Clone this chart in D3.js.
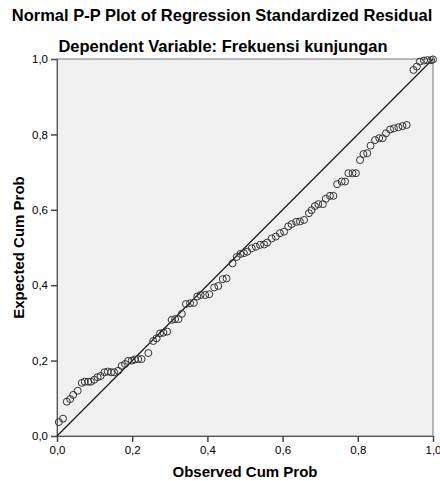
<!DOCTYPE html>
<html>
<head>
<meta charset="utf-8">
<script src="https://cdn.jsdelivr.net/npm/d3@7/dist/d3.min.js"></script>
<style>
  body { margin: 0; background: #fff; }
  text { font-family: "Liberation Sans", Arial, sans-serif; }
</style>
</head>
<body>
<div id="chart"></div>
<script>
const observed = [
  0.005, 0.016, 0.026, 0.035, 0.043, 0.055, 0.066, 0.074, 0.083, 0.090,
  0.099, 0.108, 0.116, 0.126, 0.135, 0.144, 0.152, 0.163, 0.172, 0.181,
  0.189, 0.199, 0.207, 0.216, 0.225, 0.243, 0.256, 0.265, 0.274, 0.283,
  0.293, 0.305, 0.314, 0.323, 0.332, 0.343, 0.354, 0.364, 0.373, 0.382,
  0.394, 0.405, 0.418, 0.429, 0.441, 0.451, 0.467, 0.478, 0.488, 0.497,
  0.506, 0.518, 0.529, 0.540, 0.551, 0.559, 0.571, 0.582, 0.593, 0.604,
  0.615, 0.624, 0.636, 0.646, 0.657, 0.670, 0.677, 0.686, 0.695, 0.707,
  0.715, 0.726, 0.735, 0.745, 0.757, 0.766, 0.775, 0.786, 0.795, 0.806,
  0.815, 0.825, 0.834, 0.846, 0.857, 0.866, 0.875, 0.886, 0.896, 0.908,
  0.919, 0.930, 0.948, 0.957, 0.965, 0.976, 0.985, 0.995, 1.000
];
const expected = [
  0.037, 0.046, 0.091, 0.098, 0.109, 0.120, 0.141, 0.144, 0.144, 0.144,
  0.149, 0.156, 0.159, 0.169, 0.171, 0.169, 0.169, 0.173, 0.186, 0.191,
  0.199, 0.200, 0.203, 0.204, 0.204, 0.220, 0.252, 0.259, 0.272, 0.274,
  0.277, 0.308, 0.310, 0.310, 0.324, 0.350, 0.352, 0.353, 0.370, 0.374,
  0.374, 0.376, 0.394, 0.398, 0.416, 0.418, 0.458, 0.475, 0.483, 0.485,
  0.489, 0.498, 0.502, 0.507, 0.508, 0.513, 0.524, 0.529, 0.538, 0.542,
  0.556, 0.562, 0.568, 0.569, 0.573, 0.591, 0.599, 0.610, 0.615, 0.615,
  0.629, 0.637, 0.637, 0.668, 0.675, 0.675, 0.697, 0.697, 0.697, 0.732,
  0.748, 0.750, 0.770, 0.785, 0.790, 0.790, 0.803, 0.813, 0.816, 0.819,
  0.822, 0.825, 0.971, 0.980, 0.993, 0.996, 0.997, 0.997, 0.999
];
const tickValues = [0, 0.2, 0.4, 0.6, 0.8, 1.0];

const width = 440;
const height = 481;
const margin = { top: 59, right: 7, bottom: 45, left: 57 };
const plotW = width - margin.left - margin.right;
const plotH = height - margin.top - margin.bottom;

const points = observed.map((d, i) => ({ x: d, y: expected[i] }));
const fmt = (d) => d3.format('.1f')(d).replace('.', ',');

const svg = d3.select('#chart').append('svg')
  .attr('width', width)
  .attr('height', height);

const x = d3.scaleLinear().domain([0, 1]).range([0, plotW]);
const y = d3.scaleLinear().domain([0, 1]).range([plotH, 0]);

// titles
svg.append('text')
  .attr('x', 222)
  .attr('y', 21)
  .attr('text-anchor', 'middle')
  .attr('font-size', 16.5)
  .attr('font-weight', 'bold')
  .attr('fill', '#000')
  .text('Normal P-P Plot of Regression Standardized Residual');

svg.append('text')
  .attr('x', 223)
  .attr('y', 52)
  .attr('text-anchor', 'middle')
  .attr('font-size', 16.5)
  .attr('font-weight', 'bold')
  .attr('fill', '#000')
  .text('Dependent Variable: Frekuensi kunjungan');

const g = svg.append('g')
  .attr('transform', `translate(${margin.left},${margin.top})`);

g.append('rect')
  .attr('width', plotW)
  .attr('height', plotH)
  .attr('fill', '#f0f0f0')
  .attr('stroke', '#777')
  .attr('stroke-width', 1);

// axes
const xAxis = g.append('g')
  .attr('transform', `translate(0,${plotH})`)
  .call(d3.axisBottom(x).tickValues(tickValues).tickFormat(fmt).tickSize(6).tickPadding(4));

const yAxis = g.append('g')
  .call(d3.axisLeft(y).tickValues(tickValues).tickFormat(fmt).tickSize(6).tickPadding(3));

[xAxis, yAxis].forEach((ax) => {
  ax.select('.domain').attr('stroke', '#555');
  ax.selectAll('.tick line').attr('stroke', '#444').attr('stroke-width', 1.5);
  ax.selectAll('.tick text')
    .attr('font-family', '"Liberation Sans", Arial, sans-serif')
    .attr('font-size', 11.5)
    .attr('fill', '#000');
});

// reference line
g.append('line')
  .attr('x1', x(0))
  .attr('y1', y(0))
  .attr('x2', x(1))
  .attr('y2', y(1))
  .attr('stroke', '#111')
  .attr('stroke-width', 1.1);

// points
g.selectAll('circle.pt')
  .data(points)
  .enter()
  .append('circle')
  .attr('class', 'pt')
  .attr('cx', (d) => x(d.x))
  .attr('cy', (d) => y(d.y))
  .attr('r', 3.5)
  .attr('fill', 'none')
  .attr('stroke', '#333')
  .attr('stroke-width', 1);

// axis titles
svg.append('text')
  .attr('x', margin.left + plotW / 2)
  .attr('y', 477)
  .attr('text-anchor', 'middle')
  .attr('font-size', 15)
  .attr('font-weight', 'bold')
  .attr('fill', '#000')
  .text('Observed Cum Prob');

svg.append('text')
  .attr('transform', `translate(24,${margin.top + plotH / 2}) rotate(-90)`)
  .attr('text-anchor', 'middle')
  .attr('font-size', 15)
  .attr('font-weight', 'bold')
  .attr('fill', '#000')
  .text('Expected Cum Prob');
</script>
</body>
</html>
